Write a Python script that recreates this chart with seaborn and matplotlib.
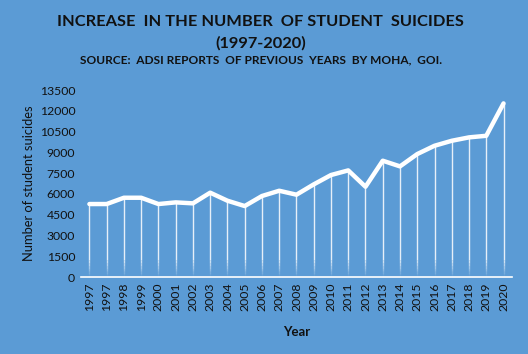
import seaborn as sns
import numpy as np
import pandas as pd
import matplotlib.pyplot as plt

years = ['1997', '1997', '1998', '1999', '2000', '2001', '2002', '2003', '2004',
         '2005', '2006', '2007', '2008', '2009', '2010', '2011', '2012', '2013',
         '2014', '2015', '2016', '2017', '2018', '2019', '2020']
suicides = [5270, 5270, 5725, 5725, 5270, 5390, 5320, 6090, 5510,
            5125, 5850, 6230, 5945, 6690, 7365, 7700, 6520, 8400,
            7990, 8880, 9480, 9840, 10085, 10200, 12540]
yticks = [0, 1500, 3000, 4500, 6000, 7500, 9000, 10500, 12000, 13500]

bg = '#5B9BD5'
sns.set_style('white')
plt.rcParams['font.family'] = ['Lato', 'DejaVu Sans']

df = pd.DataFrame({'pos': np.arange(len(years)), 'n': suicides})

fig = plt.figure(figsize=(5.28, 3.54), dpi=100, facecolor=bg)
ax = fig.add_axes([0.153, 0.2175, 0.817, 0.528], facecolor=bg)

# drop lines, fading toward the axis
for x, v in zip(df['pos'], df['n']):
    ax.vlines(x, 1200, v, color='white', lw=1, alpha=0.85, zorder=2)
    for k in range(6):
        ax.vlines(x, k * 200, (k + 1) * 200, color='white', lw=1,
                  alpha=0.05 + 0.13 * k, zorder=2)

sns.lineplot(data=df, x='pos', y='n', color='white', lw=3.2, ax=ax, zorder=3)

ax.set_xlim(-0.5, len(years) - 0.5)
ax.set_ylim(0, 13500)
ax.set_yticks(yticks)
ax.set_yticklabels([str(t) for t in yticks], fontsize=8.8, color='#111111')
ax.set_xticks(df['pos'])
ax.set_xticklabels(years, rotation=90, fontsize=8.8, color='#111111')
ax.tick_params(axis='both', length=0, pad=4)
ax.set_xticks(np.arange(len(years) + 1) - 0.5, minor=True)
ax.tick_params(axis='x', which='minor', length=4, color='white', width=1, direction='out')

for s in ['top', 'right', 'left']:
    ax.spines[s].set_visible(False)
ax.spines['bottom'].set_color('white')
ax.spines['bottom'].set_linewidth(1.2)

ax.set_xlabel('Year', fontsize=9.5, fontweight='bold', color='#111111', labelpad=11)
ax.set_ylabel('Number of student suicides', fontsize=9.3, color='#111111', labelpad=3)

fig.text(0.494, 0.938, 'INCREASE  IN THE NUMBER  OF STUDENT  SUICIDES',
         ha='center', va='center', fontsize=11.8, fontweight='bold', color='#111111')
fig.text(0.494, 0.877, '(1997-2020)', ha='center', va='center',
         fontsize=11.8, fontweight='bold', color='#111111')
fig.text(0.494, 0.83, 'SOURCE:  ADSI REPORTS  OF PREVIOUS  YEARS  BY MOHA,  GOI.',
         ha='center', va='center', fontsize=8.6, fontweight='bold', color='#111111')

fig.savefig('out.png', dpi=100, facecolor=bg)
